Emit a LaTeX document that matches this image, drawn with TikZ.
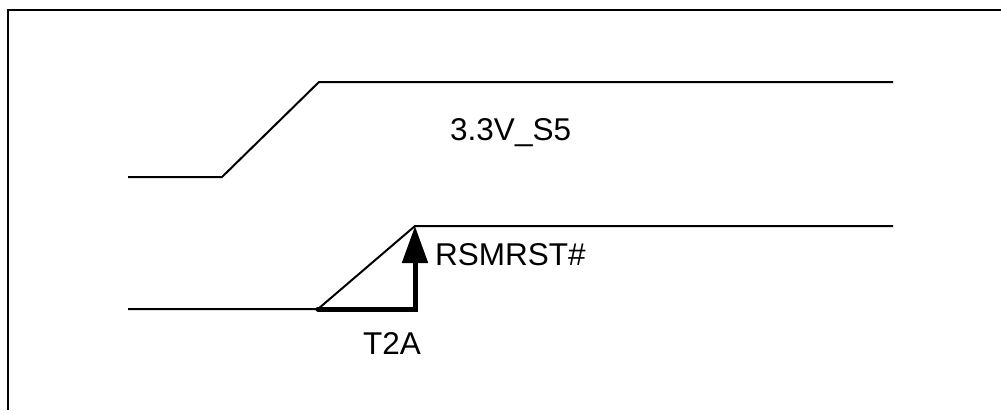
\documentclass[tikz,border=0pt]{standalone}
\usepackage{fontspec}
\setmainfont{Liberation Sans}
\usetikzlibrary{arrows.meta}
\begin{document}
\begin{tikzpicture}[x=1pt,y=-1pt,
  sig/.style={line width=2pt,black,line join=miter},
  frame/.style={line width=2pt,black},
  lbl/.style={anchor=base west,inner sep=0pt,font=\fontsize{31.5}{36}\selectfont},
  meas/.style={line width=5pt,line cap=round,-{Triangle[width=25pt,length=37pt]}}]
\useasboundingbox (0,0) rectangle (1001,410);
% frame
\coordinate (fbl) at (8,410);
\coordinate (ftl) at (8,10);
\coordinate (ftr) at (1001,10);
\draw[frame] (fbl) -- (ftl) -- (ftr);
% 3.3V_S5 signal
\coordinate (a0) at (128,177);
\coordinate (a1) at (222,177);
\coordinate (a2) at (319,82);
\coordinate (a3) at (893,82);
\draw[sig] (a0) -- (a1) -- (a2) -- (a3);
% RSMRST# signal
\coordinate (b0) at (128,309);
\coordinate (b1) at (318,309);
\coordinate (b2) at (415,226);
\coordinate (b3) at (893,226);
\draw[sig] (b0) -- (b1) -- (b2) -- (b3);
% T2A measure
\coordinate (c1) at (415,309);
\draw[meas] (b1) -- (c1) -- (b2);
% labels
\node[lbl] (l1) at (450,140) {3.3V\_S5};
\node[lbl] (l2) at (435,265) {RSMRST\#};
\node[lbl] (l3) at (363,354) {T2A};
\end{tikzpicture}
\end{document}
